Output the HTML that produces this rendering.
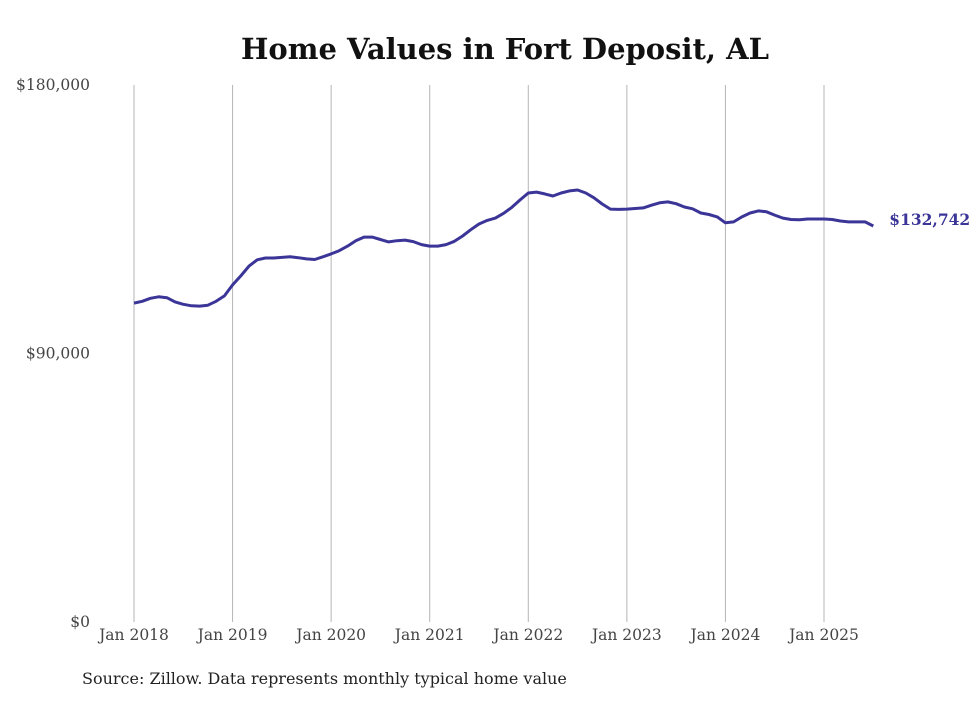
<!DOCTYPE html>
<html><head><meta charset="utf-8"><style>
body{margin:0;background:#fff;}
svg text{font-family:"DejaVu Serif","Liberation Serif",serif;}
</style></head><body>
<svg width="980" height="699" xmlns="http://www.w3.org/2000/svg">
<rect width="980" height="699" fill="#fff"/>
<text x="505" y="59" text-anchor="middle" font-size="29" font-weight="bold" fill="#111">Home Values in Fort Deposit, AL</text>
<g id="grid"></g><g id="yaxis"></g><g id="xaxis"></g><g id="series"></g>
<text x="82" y="684" font-size="16" fill="#222">Source: Zillow. Data represents monthly typical home value</text>
<script>
const yTicks=[0,90000,180000];
const yTickLabels=["$0","$90,000","$180,000"];
const xYears=[2018,2019,2020,2021,2022,2023,2024,2025];
const xTickLabels=["Jan 2018","Jan 2019","Jan 2020","Jan 2021","Jan 2022","Jan 2023","Jan 2024","Jan 2025"];
const values=[106.9,107.5,108.5,109.0,108.7,107.3,106.5,106.0,105.9,106.2,107.5,109.3,
113,116,119.3,121.4,122,122,122.2,122.4,122.1,121.7,121.5,122.4,
123.4,124.5,126,127.8,129,129,128.2,127.4,127.8,128,127.5,126.5,
126,126,126.5,127.6,129.4,131.5,133.4,134.6,135.4,137,139,141.5,
143.8,144.1,143.5,142.8,143.8,144.5,144.8,143.8,142.2,140.1,138.4,138.3,
138.4,138.6,138.8,139.7,140.5,140.8,140.2,139.1,138.5,137.1,136.6,135.8,
133.8,134.1,135.8,137.1,137.8,137.5,136.4,135.4,134.9,134.8,135.1,135.1,
135.1,134.9,134.4,134.1,134.1,134.1,132.742];
const lastLabel="$132,742";
const NS="http://www.w3.org/2000/svg";
const y=v=>622-(v/180000)*537;
const x=m=>134+m*(690/84);
function mk(t,a,p){const e=document.createElementNS(NS,t);for(const k in a)e.setAttribute(k,a[k]);p.appendChild(e);return e;}
const grid=document.getElementById('grid'),ya=document.getElementById('yaxis'),xa=document.getElementById('xaxis'),se=document.getElementById('series');
xYears.forEach((yr,i)=>{const xx=x((yr-2018)*12);
const l=mk('line',{x1:xx,x2:xx,y1:85,y2:622,stroke:'#b5b5b5','stroke-width':1},grid);


const t=mk('text',{x:xx,y:640,'text-anchor':'middle','font-size':15.5,fill:'#444'},xa);t.textContent=xTickLabels[i];

});
yTicks.forEach((v,i)=>{const t=mk('text',{x:90,y:y(v)+5,'text-anchor':'end','font-size':15.5,fill:'#444'},ya);t.textContent=yTickLabels[i];

});
const d=values.map((v,i)=>(i?'L':'M')+x(i).toFixed(1)+','+y(v*(v<1000?1000:1)).toFixed(1)).join('');
const p=mk('path',{d:d,fill:'none',stroke:'#3b3598','stroke-width':3,'stroke-linejoin':'round'},se);


const n=values.length-1;let lv=values[n];lv=lv<1000?lv*1000:lv;
const lt=mk('text',{x:x(n)+16,y:y(lv)-1,'font-size':15.5,'font-weight':'bold',fill:'#3b3598'},se);lt.textContent=lastLabel;


</script>
</svg>
</body></html>
